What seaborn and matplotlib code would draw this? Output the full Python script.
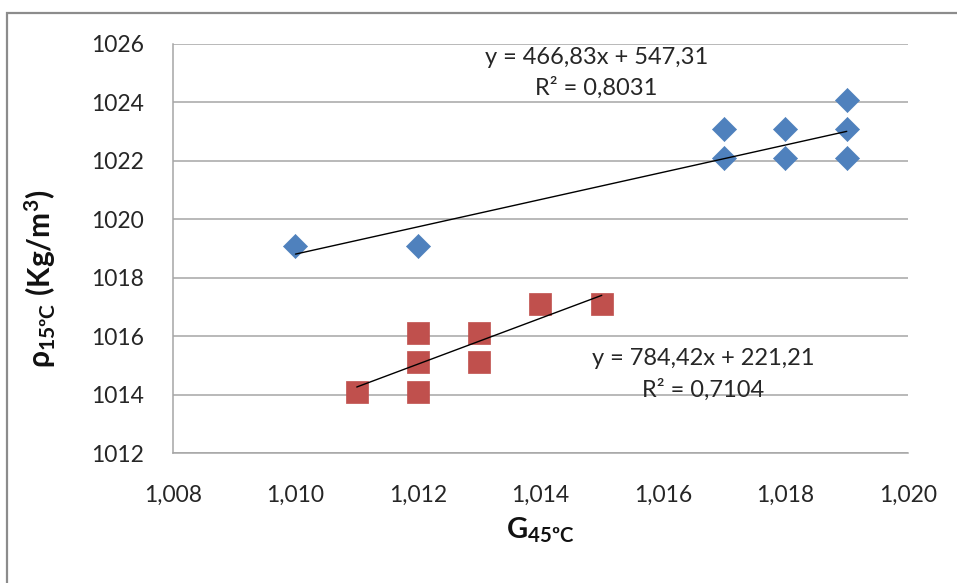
import numpy as np
import pandas as pd
import matplotlib
matplotlib.use('Agg')
import matplotlib.pyplot as plt
import seaborn as sns
from matplotlib.ticker import FuncFormatter, FixedLocator
from matplotlib.patches import Rectangle

# ---------------- data ----------------
blue_x = [1.010, 1.012, 1.017, 1.017, 1.018, 1.018, 1.019, 1.019, 1.019]
blue_y = [1019.1, 1019.1, 1023.1, 1022.1, 1023.1, 1022.1, 1024.1, 1023.1, 1022.1]
red_x = [1.011, 1.012, 1.012, 1.012, 1.013, 1.013, 1.014, 1.015]
red_y = [1014.1, 1014.1, 1015.1, 1016.1, 1015.1, 1016.1, 1017.1, 1017.1]
trend_slope = [466.83, 784.42]
trend_intercept = [547.31, 221.21]
trend_r2 = [0.8031, 0.7104]
x_ticks = [1.008, 1.010, 1.012, 1.014, 1.016, 1.018, 1.020]
y_ticks = [1012, 1014, 1016, 1018, 1020, 1022, 1024, 1026]
x_label = r'$\mathbf{G_{45ºC}}$'
y_label = r'$\mathbf{ρ_{15ºC}\ (Kg/m^3)}$'

# ---------------- style ----------------
sns.set_style('white')
plt.rcParams['font.family'] = ['Lato', 'DejaVu Sans']
plt.rcParams['mathtext.fontset'] = 'custom'
plt.rcParams['mathtext.rm'] = 'Lato'
plt.rcParams['mathtext.bf'] = 'Lato:bold'
plt.rcParams['mathtext.it'] = 'Lato:italic'

BLUE = '#4F81BD'
RED = '#C0504D'
GRID = '#A6A6A6'
TXT = '#262626'

fig = plt.figure(figsize=(9.57, 5.83), dpi=100)
ax = fig.add_axes([173/957, 1-453/583, 735/957, 409/583])

df_b = pd.DataFrame({'G': blue_x, 'rho': blue_y})
df_r = pd.DataFrame({'G': red_x, 'rho': red_y})
sns.scatterplot(data=df_b, x='G', y='rho', marker='D', s=150, color=BLUE,
                edgecolor=BLUE, linewidth=0.5, ax=ax, zorder=3, legend=False)
sns.scatterplot(data=df_r, x='G', y='rho', marker='s', s=235, color=RED,
                edgecolor=RED, linewidth=0.5, ax=ax, zorder=3, legend=False)

# trendlines
for xs, m, b in [(blue_x, trend_slope[0], trend_intercept[0]),
                 (red_x, trend_slope[1], trend_intercept[1])]:
    xx = np.array([min(xs), max(xs)])
    ax.plot(xx, m * xx + b, color='black', lw=1.0, zorder=4)

def fmt_eq(m, b):
    return f"y = {m:.2f}x + {b:.2f}".replace('.', ',')

def fmt_r2(r):
    return f"R² = {r:.4f}".replace('.', ',')

EQ_FS = 17
ax.text(1.01491, 1025.55, fmt_eq(trend_slope[0], trend_intercept[0]),
        ha='center', va='center', fontsize=EQ_FS, color=TXT)
ax.text(1.01491, 1024.49, fmt_r2(trend_r2[0]),
        ha='center', va='center', fontsize=EQ_FS, color=TXT)
ax.text(1.01665, 1015.25, fmt_eq(trend_slope[1], trend_intercept[1]),
        ha='center', va='center', fontsize=EQ_FS, color=TXT)
ax.text(1.01665, 1014.15, fmt_r2(trend_r2[1]),
        ha='center', va='center', fontsize=EQ_FS, color=TXT)

ax.set_xlim(x_ticks[0], x_ticks[-1])
ax.set_ylim(y_ticks[0], y_ticks[-1])
ax.xaxis.set_major_locator(FixedLocator(x_ticks))
ax.yaxis.set_major_locator(FixedLocator(y_ticks))
ax.xaxis.set_major_formatter(FuncFormatter(lambda v, p: f"{v:.3f}".replace('.', ',')))
ax.yaxis.set_major_formatter(FuncFormatter(lambda v, p: f"{v:.0f}"))
ax.tick_params(axis='both', length=0, labelsize=16.5, colors=TXT)
ax.tick_params(axis='y', pad=21)
ax.tick_params(axis='x', pad=23)

ax.grid(axis='y', color=GRID, lw=1.1)
ax.grid(axis='x', visible=False)
ax.set_axisbelow(True)
for s in ['top', 'right']:
    ax.spines[s].set_visible(False)
for s in ['left', 'bottom']:
    ax.spines[s].set_color(GRID)
    ax.spines[s].set_linewidth(1.1)

ax.set_xlabel(x_label, fontsize=21, color='#111111')
ax.set_ylabel(y_label, fontsize=21.5, color='#111111')
ax.xaxis.set_label_coords(0.5, -0.19)
ax.yaxis.set_label_coords(-0.181, 0.425)
ax.xaxis.label.set_va('center')
ax.yaxis.label.set_va('center')

# chart area border
fig.patches.append(Rectangle((7/957, -0.1), 1.2, 1 - 13/583 + 0.1,
                             transform=fig.transFigure, fill=False,
                             edgecolor='#8C8C8C', lw=1.6))

fig.savefig('out.png', dpi=100, facecolor='white')
